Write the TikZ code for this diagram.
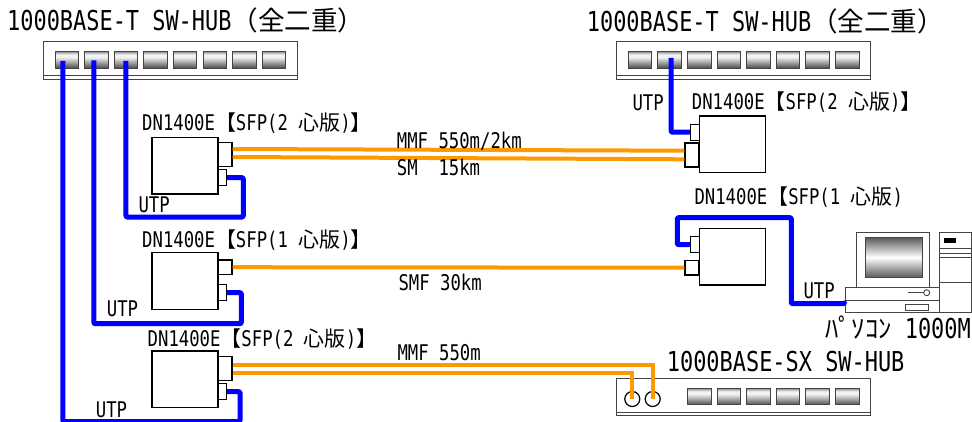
\documentclass[tikz,border=0pt]{standalone}
\usepackage{fontspec}
\setmainfont{Liberation Sans}
\newfontfamily\latinfont[FakeStretch=0.8]{DejaVu Sans Mono}
\newfontfamily\cjkfont[Scale=0.97]{Noto Sans CJK JP}
\newcommand{\jp}[1]{{\cjkfont #1}}
\usetikzlibrary{calc}
\definecolor{utpblue}{HTML}{0000FF}
\definecolor{fiberorange}{HTML}{FF9900}
\definecolor{hubgray}{HTML}{444444}
\pgfdeclareverticalshading{portshade}{100bp}{color(0bp)=(black!70); color(25bp)=(black!70); color(58bp)=(black!5); color(66bp)=(black!5); color(75bp)=(black!45); color(100bp)=(black!45)}
\pgfdeclareverticalshading{screenshade}{100bp}{color(0bp)=(black!65); color(25bp)=(black!65); color(50bp)=(white); color(75bp)=(black!65); color(100bp)=(black!65)}
\tikzset{
  hubbody/.style={draw=hubgray, line width=0.9pt, fill=white, inner sep=0pt, minimum width=253.5pt, minimum height=37.5pt},
  hubport/.style={draw=hubgray, line width=0.9pt, shading=portshade, inner sep=0pt, minimum width=23.5pt, minimum height=16.5pt},
  unit/.style={draw=black, line width=1.2pt, fill=white, inner sep=0pt, minimum width=66pt, minimum height=56.7pt},
  jackbig/.style={draw=black, line width=1.2pt, fill=white, inner sep=0pt, minimum width=14pt, minimum height=24pt},
  jackone/.style={jackbig, minimum height=14.5pt},
  jacksmall/.style={draw=black, line width=1.2pt, fill=white, inner sep=0pt, minimum width=8.5pt, minimum height=16pt},
  sxport/.style={circle, draw=black, line width=1.2pt, inner sep=0pt, minimum size=15pt},
  utp/.style={draw=utpblue, line width=5pt, line join=round, rounded corners=1pt},
  fiber/.style={draw=fiberorange, line width=4pt},
  pcline/.style={draw=hubgray, line width=0.9pt},
  lbl/.style={anchor=base west, inner sep=0pt, font=\latinfont\fontsize{21.6}{23}\selectfont},
  titlelbl/.style={lbl, font=\latinfont\fontsize{27.4}{29}\selectfont},
}
\begin{document}
\begin{tikzpicture}[x=1pt, y=-1pt]
  \useasboundingbox (0,0) rectangle (972,421);
  % Hubs
  \node[hubbody] (huba) at (170.25,60.25) {};
  \node[hubbody] (hubb) at (743.35,60.25) {};
  \node[hubbody] (hubc) at (743.35,397.15) {};
  \foreach \h in {huba,hubb,hubc}
    \draw[pcline] ([yshift=4pt]\h.south west) -- ([yshift=4pt]\h.south east);
  \foreach \i in {1,...,8}{
    \node[hubport] (huba-\i) at ({66.75+29.6*(\i-1)},59.75) {};
    \node[hubport] (hubb-\i) at ({640.05+29.6*(\i-1)},59.75) {};
  }
  \foreach \i in {3,...,8}
    \node[hubport] (hubc-\i) at ({640.05+29.6*(\i-1)},396.65) {};
  \node[sxport] (sx-1) at (632.3,399) {};
  \node[sxport] (sx-2) at (652.7,399) {};
  % Medienkonverter links
  \node[unit] (dna) at (185,165.7) {};
  \node[jackbig] (dna-b) at (225,154.7) {};
  \node[jacksmall] (dna-s) at (222.25,177.7) {};
  \node[unit] (dnb) at (185,280.8) {};
  \node[jackone] (dnb-b) at (225,267.2) {};
  \node[jacksmall] (dnb-s) at (222.25,292.7) {};
  \node[unit] (dnc) at (185,379.4) {};
  \node[jackbig] (dnc-b) at (225,368.5) {};
  \node[jacksmall] (dnc-s) at (222.25,391.7) {};
  % Medienkonverter rechts
  \node[unit] (dnd) at (732.3,144.4) {};
  \node[jackbig] (dnd-b) at (692,155) {};
  \node[jacksmall] (dnd-s) at (695,132.2) {};
  \node[unit] (dne) at (732.3,256.7) {};
  \node[jackone] (dne-b) at (692,267.7) {};
  \node[jacksmall] (dne-s) at (695,244.7) {};
  % PC
  \draw[pcline, fill=white] (856.7,232.3) rectangle (929.3,287.7);
  \shade[shading=screenshade, draw=hubgray, line width=0.9pt] (865,237.3) rectangle (922.7,277.3);
  \node[pcline, fill=white, draw, inner sep=0pt, minimum width=94.3pt, minimum height=25pt] (pcbase) at (892.15,300.2) {};
  \draw[pcline] (pcbase.west) -- (pcbase.east);
  \draw[pcline] (908,292.7) -- (923.7,292.7);
  \draw[pcline, fill=white] (926.7,292.7) circle[radius=3];
  \draw[pcline] (905.7,304.3) rectangle (928,310.7);
  \draw[pcline] (939.3,232.3) rectangle (971.5,312.7);
  \foreach \y in {248.7,253.3,257.7,282.7} \draw[pcline] (939.3,\y) -- (971.5,\y);
  \fill (944,238.3) rectangle (955.7,243.3);
  % UTP
  \coordinate (benda) at (243.3,217);
  \coordinate (bendb) at (241.3,323.7);
  \coordinate (bendc) at (240,421.5);
  \coordinate (bende) at (677.3,217.7);
  \coordinate (bendf) at (791.3,303.7);
  \draw[utp] ([yshift=-1pt]huba-3.center) |- (benda) |- (dna-s.east);
  \draw[utp] ([xshift=-2.5pt,yshift=-0.5pt]huba-2.center) |- (bendb) |- (dnb-s.east);
  \draw[utp] ([xshift=-4pt,yshift=-1pt]huba-1.center) |- (bendc) |- (dnc-s.east);
  \draw[utp] ([xshift=1.5pt,yshift=2pt]hubb-2.center) |- (dnd-s.west);
  \draw[utp] (dne-s.west) -| (bende) -| (bendf) -| ([yshift=-3.5pt]pcbase.west);
  % Fiber
  \draw[fiber] ([yshift=5.7pt]dna-b.east) -- ([yshift=4.3pt]dnd-b.west);
  \draw[fiber] ([yshift=-2.3pt]dna-b.east) -- ([yshift=-4.3pt]dnd-b.west);
  \draw[fiber] (dnb-b.east) -- (dne-b.west);
  \draw[fiber] ([yshift=3.8pt]dnc-b.east) -| (sx-2.center);
  \draw[fiber] ([yshift=-4.2pt]dnc-b.east) -| (sx-1.center);
  % Beschriftungen
  \node[titlelbl] (t-huba) at (7,30.7) {1000BASE-T SW-HUB\jp{（全二重）}};
  \node[titlelbl] (t-hubb) at (586.7,31.7) {1000BASE-T SW-HUB\jp{（全二重）}};
  \node[titlelbl] (t-hubc) at (666.7,371.7) {1000BASE-SX SW-HUB};
  \node[titlelbl] (t-pc) at (825,338.3) {\jp{ﾊﾟｿｺﾝ} 1000M};
  \node[lbl] (t-dna) at (142,130.7) {DN1400E\jp{【}SFP(2 \jp{心版})\jp{】}};
  \node[lbl] (t-dnb) at (142,247.3) {DN1400E\jp{【}SFP(1 \jp{心版})\jp{】}};
  \node[lbl] (t-dnc) at (147.5,346.7) {DN1400E\jp{【}SFP(2 \jp{心版})\jp{】}};
  \node[lbl] (t-dnd) at (691.7,109) {DN1400E\jp{【}SFP(2 \jp{心版})\jp{】}};
  \node[lbl] (t-dne) at (694.3,204) {DN1400E\jp{【}SFP(1 \jp{心版})};
  \node[lbl] (u-a) at (138.3,212) {UTP};
  \node[lbl] (u-b) at (106.7,316) {UTP};
  \node[lbl] (u-c) at (95.7,417) {UTP};
  \node[lbl] (u-d) at (632.3,110) {UTP};
  \node[lbl] (u-e) at (803.3,298.3) {UTP};
  \node[lbl] (f-a) at (396.7,148.3) {MMF 550m/2km};
  \node[lbl] (f-b) at (396.7,175) {SM~~15km};
  \node[lbl] (f-c) at (398.3,290) {SMF 30km};
  \node[lbl] (f-d) at (397.3,360) {MMF 550m};
\end{tikzpicture}
\end{document}
